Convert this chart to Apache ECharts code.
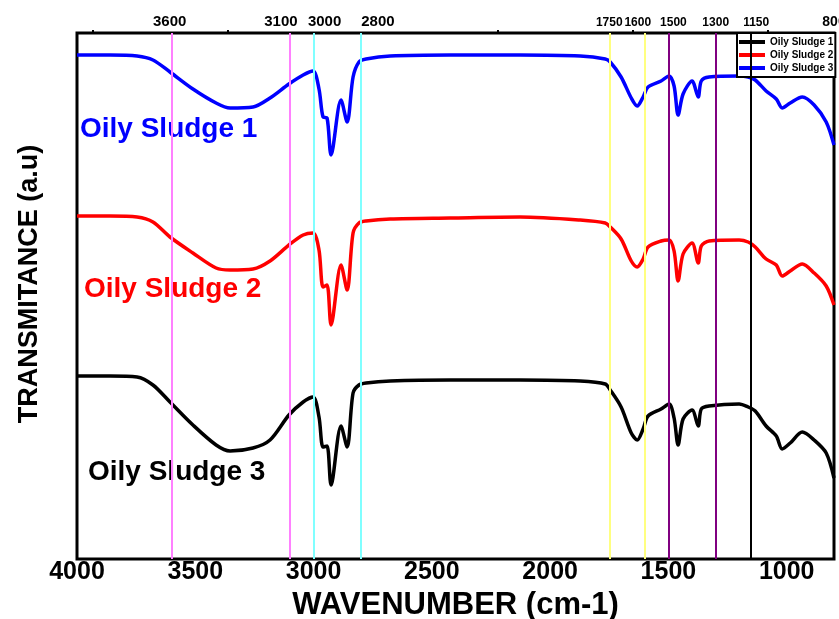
<!DOCTYPE html>
<html>
<head>
<meta charset="utf-8">
<script src="https://cdn.jsdelivr.net/npm/echarts@6/dist/echarts.min.js"></script>
<style>
  html, body { margin: 0; padding: 0; background: #fff; }
  #chart { width: 839px; height: 619px; }
</style>
</head>
<body>
<div id="chart"></div>
<script>
// wavenumber (cm-1) sample points
const wavenumbers = [4000, 3860, 3746, 3679, 3607, 3510, 3412, 3353, 3256, 3184, 3104, 3044, 3002, 2977,
  2960, 2943, 2926, 2884, 2858, 2833, 2808, 2778, 2676, 2423, 2127, 1873, 1767, 1746, 1700, 1657, 1632,
  1607, 1586, 1531, 1497, 1476, 1459, 1438, 1400, 1374, 1361, 1328, 1201, 1163, 1133, 1087, 1044, 1019,
  985, 934, 884, 833, 800];

// transmittance, arbitrary units (curves are stacked with offsets)
const blueCurve = [504, 504, 503, 499, 487, 470, 456, 451, 452, 461, 475, 484, 488, 470,
  442, 441, 404, 459, 437, 482, 497, 500, 503, 504, 504, 503, 500, 497, 482, 461, 453,
  462, 472, 478, 483, 473, 444, 465, 478, 462, 478, 482, 483, 482, 479, 468, 460, 451,
  456, 462, 454, 437, 414];
const redCurve = [343, 343, 342, 337, 322, 306, 291, 289, 290, 298, 314, 324, 326, 309,
  272, 274, 234, 294, 269, 326, 336, 338, 340, 341, 342, 339, 336, 332, 320, 298, 292,
  300, 312, 318, 319, 308, 278, 305, 316, 296, 313, 318, 319, 317, 312, 300, 294, 283,
  288, 295, 286, 273, 254];
const blackCurve = [183, 183, 182, 174, 157, 134, 114, 108, 111, 119, 144, 157, 162, 142,
  112, 113, 74, 133, 112, 166, 174, 176, 178, 179, 179, 178, 175, 169, 152, 126, 119,
  130, 143, 150, 155, 141, 114, 140, 149, 133, 150, 153, 155, 152, 148, 133, 123, 110,
  116, 127, 119, 106, 81];

// band marker lines and their colours
const markerLines = [3600, 3100, 3000, 2800, 1750, 1600, 1500, 1300, 1150];
const markerColors = ['#ff80ff', '#ff80ff', '#80ffff', '#80ffff', '#ffff80', '#ffff80', '#800080', '#800080', '#000000'];

const bottomTicks = [4000, 3500, 3000, 2500, 2000, 1500, 1000];
const topLabels = [3600, 3100, 3000, 2800, 1750, 1600, 1500, 1300, 1150, 800];
const topTicks = [3932, 3361, 2220, 1649, 1078];

const FONT = '"Liberation Sans", Arial, sans-serif';

// top labels were nudged sideways in the original figure
const topNudge = { 3600: -2, 3100: -9, 3000: 11, 2800: 17, 1600: -7, 1500: 5, 1150: 5 };
const topRich = {};
topLabels.forEach((v) => {
  const d = topNudge[v] || 0;
  topRich['t' + v] = {
    fontSize: v >= 2800 ? 15 : v === 800 ? 14 : 12,
    fontWeight: 'bold', color: '#000', fontFamily: FONT,
    padding: [0, d < 0 ? -2 * d : 0, 0, d > 0 ? 2 * d : 0],
  };
});

const chart = echarts.init(document.getElementById('chart'));

const curve = (name, color, values) => ({
  name,
  type: 'line',
  data: wavenumbers.map((w, i) => [w, values[i]]),
  showSymbol: false,
  smooth: 0.3,
  z: 3,
  lineStyle: { width: 3.5, color },
  itemStyle: { color },
});

chart.setOption({
  animation: false,
  grid: {
    left: 77, right: 5, top: 33, bottom: 60,
    outerBoundsMode: 'none',
    show: true, borderColor: '#000', borderWidth: 3,
  },
  legend: {
    data: ['Oily Sludge 1', 'Oily Sludge 2', 'Oily Sludge 3'],
    orient: 'vertical',
    left: 737, top: 33,
    icon: 'rect',
    itemWidth: 26, itemHeight: 4, itemGap: 3,
    padding: [4, 2, 4, 2],
    backgroundColor: '#fff',
    borderColor: '#000', borderWidth: 2, borderRadius: 0,
    selectedMode: false,
    textStyle: { fontSize: 10, fontWeight: 'bold', color: '#000', fontFamily: FONT },
  },
  xAxis: [
    {
      type: 'value', position: 'bottom',
      min: 800, max: 4000, inverse: true,
      axisLine: { show: false }, axisTick: { show: false }, splitLine: { show: false },
      axisLabel: {
        customValues: bottomTicks, margin: 1,
        formatter: (v) => String(v),
        fontSize: 25, fontWeight: 'bold', color: '#000', fontFamily: FONT,
      },
      name: 'WAVENUMBER (cm-1)', nameLocation: 'middle', nameGap: 28,
      nameTextStyle: { fontSize: 31, fontWeight: 'bold', color: '#000', fontFamily: FONT },
    },
    {
      type: 'value', position: 'top',
      min: 800, max: 4000, inverse: true,
      axisLine: { show: false }, splitLine: { show: false },
      axisTick: { show: true, customValues: topTicks, length: 3, lineStyle: { width: 2, color: '#000' } },
      axisLabel: {
        customValues: topLabels, margin: 4,
        formatter: (v) => `{t${v}|${v}}`,
        rich: topRich,
      },
    },
  ],
  yAxis: {
    type: 'value', min: 0, max: 526,
    axisLine: { show: false }, axisTick: { show: false }, axisLabel: { show: false },
    splitLine: { show: false },
    name: 'TRANSMITANCE (a.u)', nameLocation: 'middle', nameGap: 34, nameRotate: 90,
    nameTextStyle: { fontSize: 27, fontWeight: 'bold', color: '#000', fontFamily: FONT, padding: [0, 0, 0, 24] },
  },
  graphic: [
    { type: 'text', left: 80, top: 115, style: { text: 'Oily Sludge 1', fill: '#0000ff', font: `bold 28px ${FONT}` } },
    { type: 'text', left: 84, top: 275, style: { text: 'Oily Sludge 2', fill: '#ff0000', font: `bold 28px ${FONT}` } },
    { type: 'text', left: 88, top: 458, style: { text: 'Oily Sludge 3', fill: '#000000', font: `bold 28px ${FONT}` } },
  ],
  series: [
    {
      name: 'markers', type: 'line', data: [], z: 1,
      markLine: {
        silent: true, symbol: 'none', animation: false,
        label: { show: false },
        data: markerLines.map((v, i) => ({ xAxis: v, lineStyle: { color: markerColors[i], width: 2, type: 'solid' } })),
      },
    },
    curve('Oily Sludge 3', '#0000ff', blueCurve),
    curve('Oily Sludge 2', '#ff0000', redCurve),
    curve('Oily Sludge 1', '#000000', blackCurve),
  ],
});
</script>
</body>
</html>
